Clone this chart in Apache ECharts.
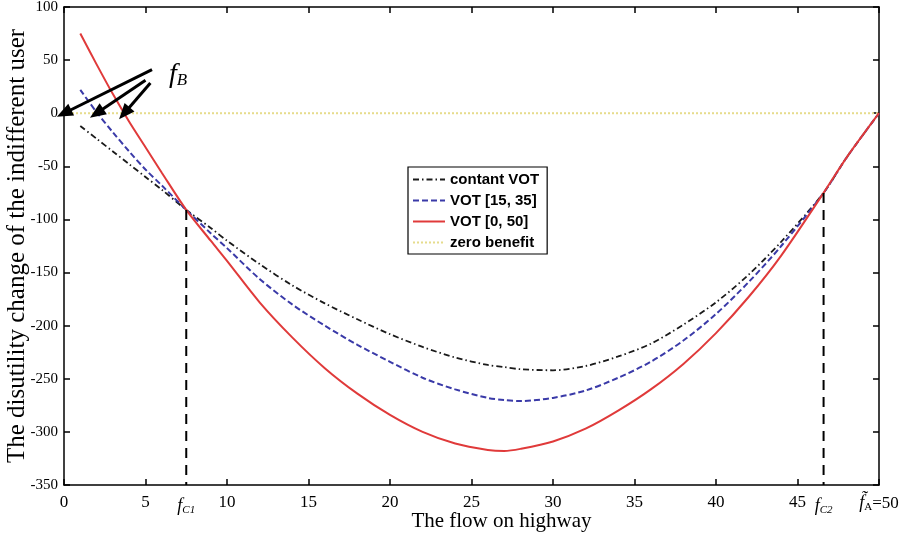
<!DOCTYPE html>
<html>
<head>
<meta charset="utf-8">
<script src="https://cdn.jsdelivr.net/npm/echarts@6/dist/echarts.min.js"></script>
<style>html,body{margin:0;padding:0;background:#fff}#c{width:910px;height:537px}</style>
</head>
<body>
<div id="c"></div>
<script>
// ---- data ----
const xFlow = [1, 2, 3, 4, 5, 6, 7.5, 9, 10, 12, 14, 16, 18, 20, 22, 24, 26, 27, 28, 30, 32, 34, 36, 38, 40, 42, 44, 46.6, 48, 50];
const constantVOT = [-12, -24, -36, -48, -60, -72, -91, -108, -120, -142, -162, -179, -194, -208, -220, -230, -237, -239, -241, -242, -238, -229, -217, -199, -178, -152, -121, -75, -42, 0];
const vot1535 = [22, 1, -18, -36, -53, -68, -91, -113, -127, -156, -180, -200, -218, -234, -249, -260, -268, -270, -271, -268, -261, -249, -234, -214, -189, -159, -125, -75, -42, 0];
const vot050 = [75, 46, 18, -8, -32, -56, -91, -120, -139, -178, -211, -240, -264, -284, -300, -311, -317, -318, -316, -309, -297, -280, -260, -236, -207, -173, -134, -75, -42, 0];
const zeroX = [0, 50];
const zeroY = [0, 0];
const fcX = [7.5, 46.6];
const fcY = [-91, -75];
const fBTips = [0, 2.0, 3.7];
const fBTails = [[5.4, 41], [5.0, 31], [5.3, 28.5]];
const fBLabelPos = [7.0, 36];
const xTicks = {min: 0, max: 50, interval: 5};
const yTicks = {min: -350, max: 100, interval: 50};
const seriesNames = ['contant VOT', 'VOT [15, 35]', 'VOT [0, 50]', 'zero benefit'];

const pair = (xs, ys) => xs.map((x, i) => [x, ys[i]]);
const serif = 'Liberation Serif';

const chart = echarts.init(document.getElementById('c'), null, {renderer: 'canvas'});

const axisLine = {show: true, onZero: false, lineStyle: {color: '#000', width: 1.5}};
const tickIn = {show: true, inside: true, length: 6, lineStyle: {color: '#000', width: 1.5}};

const option = {
  animation: false,
  backgroundColor: '#fff',
  grid: {left: 64, right: 31, top: 7, bottom: 52, containLabel: false, outerBoundsMode: 'none'},
  legend: {
    data: seriesNames,
    orient: 'vertical',
    left: 408, top: 167,
    itemWidth: 32, itemHeight: 12, itemGap: 6,
    padding: [5, 8, 4, 4],
    backgroundColor: '#fff',
    borderColor: '#000', borderWidth: 1.2,
    itemStyle: {color: 'transparent', borderColor: 'transparent', borderWidth: 0, opacity: 0},
    textStyle: {fontFamily: 'Liberation Sans', fontWeight: 'bold', fontSize: 15, color: '#000'}
  },
  xAxis: [
    {
      type: 'value', min: xTicks.min, max: xTicks.max, interval: xTicks.interval, position: 'bottom',
      axisLine, axisTick: tickIn, splitLine: {show: false},
      axisLabel: {
        fontFamily: serif, fontSize: 17, color: '#000', margin: 9, showMaxLabel: true,
        formatter: v => v === 50 ? '{fi|f\u0303}{sub|A}{n|=50}' : String(v),
        rich: {
          fi: {fontFamily: serif, fontStyle: 'italic', fontSize: 18, color: '#000'},
          sub: {fontFamily: serif, fontSize: 11, color: '#000', verticalAlign: 'bottom', padding: [8, 0, 0, 0]},
          n: {fontFamily: serif, fontSize: 17, color: '#000'}
        }
      },
      name: 'The flow on highway', nameLocation: 'middle', nameGap: 26, nameMoveOverlap: false,
      nameTextStyle: {fontFamily: serif, fontSize: 21, color: '#000', padding: [0, 0, 0, 60]}
    },
    {
      type: 'value', min: xTicks.min, max: xTicks.max, interval: xTicks.interval, position: 'top',
      axisLine, axisTick: tickIn, axisLabel: {show: false}, splitLine: {show: false}
    },
    {
      type: 'value', min: xTicks.min, max: xTicks.max, position: 'bottom',
      axisLine: {show: false}, splitLine: {show: false},
      axisTick: {show: false},
      axisLabel: {
        show: true, customValues: fcX, margin: 12,
        formatter: v => v < 20 ? '{fi|f}{sub|C1}' : '{fi|f}{sub|C2}',
        rich: {
          fi: {fontFamily: serif, fontStyle: 'italic', fontSize: 18, color: '#000'},
          sub: {fontFamily: serif, fontStyle: 'italic', fontSize: 11, color: '#000', padding: [8, 0, 0, 0]}
        }
      }
    }
  ],
  yAxis: [
    {
      type: 'value', min: yTicks.min, max: yTicks.max, interval: yTicks.interval, position: 'left',
      axisLine, axisTick: tickIn, splitLine: {show: false},
      axisLabel: {fontFamily: serif, fontSize: 15, color: '#000', margin: 6},
      name: 'The disutility change of the indifferent user', nameLocation: 'middle', nameGap: 34, nameMoveOverlap: false,
      nameTextStyle: {fontFamily: serif, fontSize: 25, color: '#000'}
    },
    {
      type: 'value', min: yTicks.min, max: yTicks.max, interval: yTicks.interval, position: 'right',
      axisLine, axisTick: tickIn, axisLabel: {show: false}, splitLine: {show: false}
    }
  ],
  series: [
    {
      name: seriesNames[0], type: 'line', data: pair(xFlow, constantVOT), smooth: 0.3,
      symbol: 'none', lineStyle: {color: '#1a1a1a', width: 1.8, type: [6, 3, 1.5, 3]}, itemStyle: {color: '#1a1a1a'}, z: 4
    },
    {
      name: seriesNames[1], type: 'line', data: pair(xFlow, vot1535), smooth: 0.3,
      symbol: 'none', lineStyle: {color: '#3a3aa8', width: 2, type: [6, 3]}, itemStyle: {color: '#3a3aa8'}, z: 4
    },
    {
      name: seriesNames[2], type: 'line', data: pair(xFlow, vot050), smooth: 0.3,
      symbol: 'none', lineStyle: {color: '#e03a3a', width: 2}, itemStyle: {color: '#e03a3a'}, z: 4
    },
    {
      name: seriesNames[3], type: 'line', data: pair(zeroX, zeroY),
      symbol: 'none', lineStyle: {color: '#e6dc8c', width: 2, type: [2, 2]}, itemStyle: {color: '#e6dc8c'}, z: 3
    },
    {
      name: 'fC1', type: 'line', data: [[fcX[0], fcY[0]], [fcX[0], yTicks.min]],
      symbol: 'none', lineStyle: {color: '#000', width: 2, type: [10, 7]}, z: 5
    },
    {
      name: 'fC2', type: 'line', data: [[fcX[1], fcY[1]], [fcX[1], yTicks.min]],
      symbol: 'none', lineStyle: {color: '#000', width: 2, type: [10, 7]}, z: 5
    },
    {
      name: 'fB', type: 'line', data: [], symbol: 'none',
      markLine: {
        silent: true, animation: false,
        symbol: ['none', 'triangle'], symbolSize: [13, 16],
        lineStyle: {color: '#000', width: 3, type: 'solid'},
        label: {show: false},
        data: fBTips.map((tx, i) => [{coord: fBTails[i]}, {coord: [tx, 0]}])
      },
      markPoint: {
        symbol: 'circle', symbolSize: 0, silent: true,
        label: {
          show: true, position: 'inside', formatter: '{f|f}{b|B}',
          rich: {
            f: {fontFamily: serif, fontStyle: 'italic', fontSize: 28, color: '#000'},
            b: {fontFamily: serif, fontStyle: 'italic', fontSize: 17, color: '#000', padding: [12, 0, 0, 0]}
          }
        },
        data: [{coord: fBLabelPos}]
      },
      z: 6
    }
  ]
};
chart.setOption(option);
</script>
</body>
</html>
